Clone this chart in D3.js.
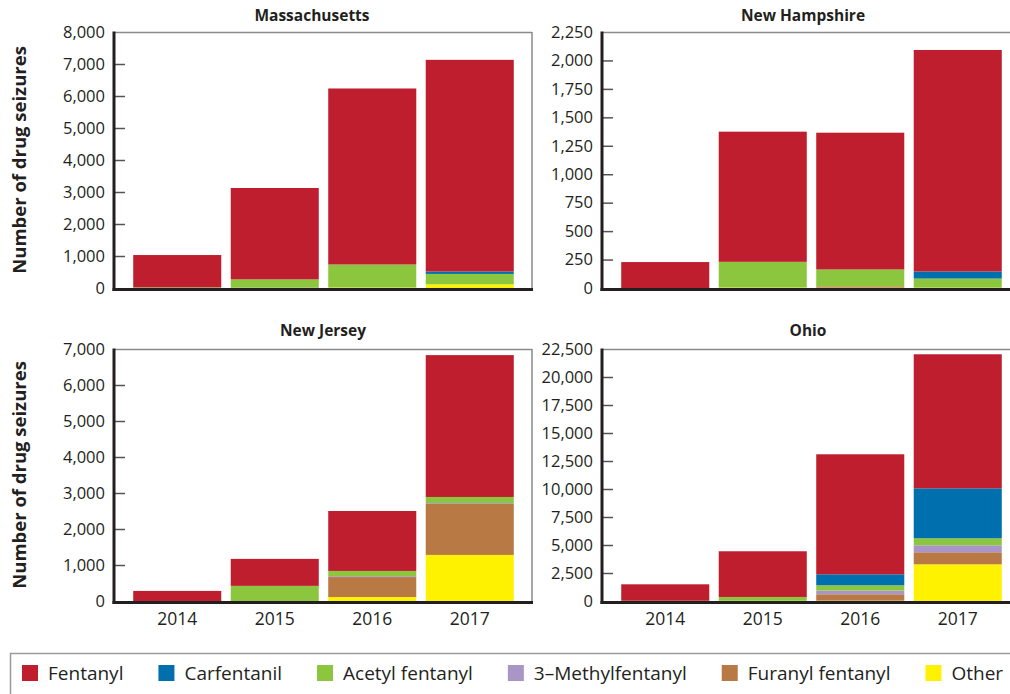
<!DOCTYPE html>
<html>
<head>
<meta charset="utf-8">
<script src="https://cdn.jsdelivr.net/npm/d3@7"></script>
<style>
  html, body { margin: 0; padding: 0; background: #fff; }
  svg { display: block; font-family: "Open Sans", "Noto Sans", sans-serif; }
</style>
</head>
<body>
<svg id="chart" width="1010" height="694"></svg>
<script>
// ---- Data ----
const years = ["2014", "2015", "2016", "2017"];
const states = ["Massachusetts", "New Hampshire", "New Jersey", "Ohio"];
const drugNames = ["Fentanyl", "Carfentanil", "Acetyl fentanyl", "3\u2013Methylfentanyl", "Furanyl fentanyl", "Other"];
const drugColors = ["#be1e2d", "#006fad", "#8cc63f", "#a996c6", "#b97944", "#fff200"];

// values per drug: one array per state (MA, NH, NJ, OH), each over years 2014..2017
const fentanyl       = [[1010, 2855, 5500, 6615], [228, 1144, 1202, 1947], [280, 750, 1665, 3940], [1470, 4080, 10715, 11970]];
const carfentanil    = [[0, 0, 0, 75],            [0, 0, 0, 62],           [0, 0, 0, 0],           [0, 0, 980, 4460]];
const acetylFentanyl = [[20, 260, 720, 325],      [0, 226, 148, 80],       [0, 420, 145, 170],     [0, 340, 475, 630]];
const methylFentanyl = [[0, 0, 0, 0],             [0, 0, 0, 0],            [0, 0, 25, 25],         [0, 0, 330, 620]];
const furanylFentanyl= [[0, 10, 0, 0],            [0, 0, 12, 0],           [0, 0, 555, 1415],      [0, 0, 570, 1075]];
const other          = [[0, 0, 15, 115],          [0, 4, 3, 3],            [0, 0, 110, 1280],      [20, 20, 30, 3275]];

const yMax   = [8000, 2250, 7000, 22500];
const yStep  = [1000, 250, 1000, 2500];

// ---- Layout ----
const svg = d3.select("#chart");
const panelW = 417;
const panels = [
  { x0: 115, top: 32,  zero: 288, titleX: 312, titleY: 20.5, yearLabels: false, yTitle: true  },
  { x0: 603, top: 32,  zero: 288, titleX: 803, titleY: 20.5, yearLabels: false, yTitle: false },
  { x0: 115, top: 349, zero: 601, titleX: 323, titleY: 335.5, yearLabels: true,  yTitle: true  },
  { x0: 603, top: 349, zero: 601, titleX: 808, titleY: 335.5, yearLabels: true,  yTitle: false }
];

// stacking order bottom -> top
const stackOrder = [5, 4, 3, 2, 1, 0];
const drugData = [fentanyl, carfentanil, acetylFentanyl, methylFentanyl, furanylFentanyl, other];
const fmt = d3.format(",");

panels.forEach((p, si) => {
  const g = svg.append("g");
  const x = d3.scaleBand().domain(years)
    .range([p.x0, p.x0 + panelW]).paddingInner(0.097).paddingOuter(0.187);
  const y = d3.scaleLinear().domain([0, yMax[si]]).range([p.zero, p.top]);

  const rows = years.map((yr, yi) => {
    const r = { year: yr };
    drugNames.forEach((n, di) => { r[n] = drugData[di][si][yi]; });
    return r;
  });
  const keys = stackOrder.map(i => drugNames[i]);
  const stacked = d3.stack().keys(keys)(rows);

  stacked.forEach((layer) => {
    const ci = drugNames.indexOf(layer.key);
    g.append("g").attr("fill", drugColors[ci])
      .selectAll("rect").data(layer).join("rect")
      .attr("x", d => x(d.data.year))
      .attr("width", x.bandwidth())
      .attr("y", d => y(d[1]))
      .attr("height", d => Math.max(0, y(d[0]) - y(d[1])));
  });

  // frame top & right
  g.append("line").attr("x1", p.x0).attr("x2", p.x0 + panelW)
    .attr("y1", p.top + 0.5).attr("y2", p.top + 0.5)
    .attr("stroke", "#8a8a8a").attr("stroke-width", 1.5);
  g.append("line").attr("x1", p.x0 + panelW).attr("x2", p.x0 + panelW)
    .attr("y1", p.top).attr("y2", p.zero + 2)
    .attr("stroke", "#8a8a8a").attr("stroke-width", 1.5);

  // y axis ticks (inner) and labels
  const ticks = d3.range(0, yMax[si] + 1, yStep[si]);
  const yAxis = d3.axisLeft(y).tickValues(ticks).tickFormat(fmt).tickSize(-10).tickPadding(10);
  const ag = g.append("g").attr("transform", `translate(${p.x0},0)`).call(yAxis);
  ag.select(".domain").remove();
  ag.selectAll(".tick line").attr("stroke", "#555").attr("stroke-width", 1.5)
    .filter(d => d === 0 || d === yMax[si]).remove();
  ag.selectAll(".tick text").attr("font-size", 16.5).attr("fill", "#231f20")
    .attr("font-family", "'Open Sans', 'Noto Sans', sans-serif");

  // axis lines
  g.append("line").attr("x1", p.x0 - 1).attr("x2", p.x0 - 1)
    .attr("y1", p.top - 0.5).attr("y2", p.zero + 3)
    .attr("stroke", "#231f20").attr("stroke-width", 3);
  g.append("line").attr("x1", p.x0 - 2.5).attr("x2", p.x0 + panelW + 1)
    .attr("y1", p.zero + 1.5).attr("y2", p.zero + 1.5)
    .attr("stroke", "#231f20").attr("stroke-width", 3);

  // title
  g.append("text").attr("x", p.titleX).attr("y", p.titleY)
    .attr("text-anchor", "middle").attr("font-size", 15.5).attr("font-weight", "bold")
    .attr("fill", "#231f20").text(states[si]);

  if (p.yearLabels) {
    g.selectAll(".yr").data(years).join("text")
      .attr("x", d => x(d) + x.bandwidth() / 2)
      .attr("y", p.zero + 24)
      .attr("text-anchor", "middle").attr("font-size", 17.5).attr("fill", "#231f20")
      .text(d => d);
  }
  if (p.yTitle) {
    const cy = (p.top + p.zero) / 2;
    g.append("text").attr("transform", `translate(26,${cy}) rotate(-90)`)
      .attr("text-anchor", "middle").attr("font-size", 18.5).attr("font-weight", "bold")
      .attr("fill", "#231f20").text("Number of drug seizures");
  }
});

// ---- Legend ----
const lg = svg.append("g");
lg.append("rect").attr("x", 10.5).attr("y", 653.5).attr("width", 1040).attr("height", 60)
  .attr("fill", "none").attr("stroke", "#9a9a9a").attr("stroke-width", 1.5);
let lx = 22;
drugNames.forEach((n, i) => {
  lg.append("rect").attr("x", lx).attr("y", 665).attr("width", 16).attr("height", 16)
    .attr("fill", drugColors[i]);
  const t = lg.append("text").attr("x", lx + 26).attr("y", 680)
    .attr("font-size", 19).attr("fill", "#231f20").text(n);
  const w = t.node().getComputedTextLength();
  lx = lx + 26 + w + 35;
});
</script>
</body>
</html>
